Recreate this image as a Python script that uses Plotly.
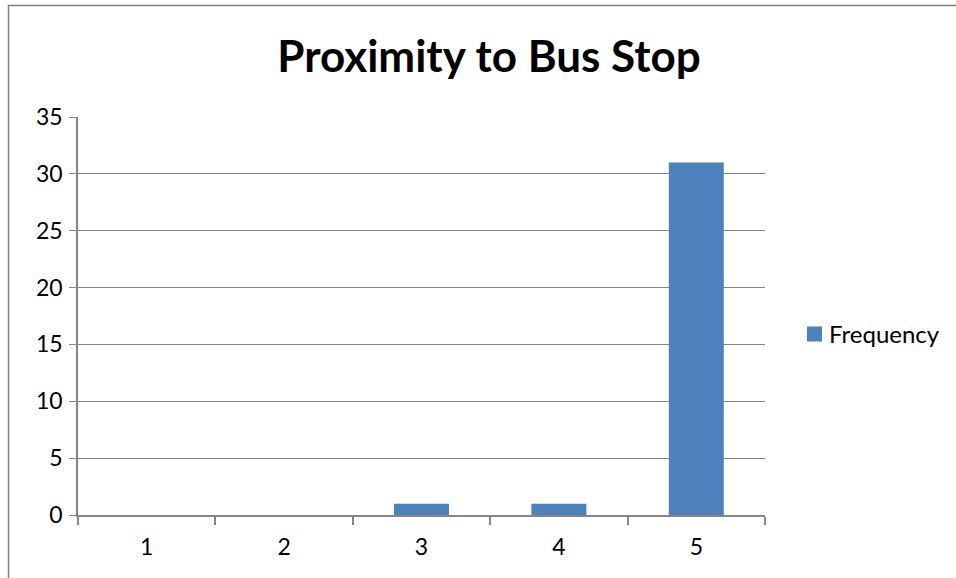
import plotly.graph_objects as go

# Frequency of responses per proximity rating
ratings = [1, 2, 3, 4, 5]
frequency = [0, 0, 1, 1, 31]
y_ticks = [0, 5, 10, 15, 20, 25, 30, 35]
series_name = "Frequency"

GRID = "#868686"
BAR = "#4F81BD"
FONT = "Lato, 'Open Sans', sans-serif"

fig = go.Figure()
fig.add_trace(go.Bar(
    x=ratings,
    y=frequency,
    name=series_name,
    marker=dict(color=BAR, line=dict(width=0)),
    width=0.4,
    showlegend=False,
))

fig.update_layout(
    width=956,
    height=578,
    margin=dict(l=78, r=191, t=117, b=63),
    paper_bgcolor="white",
    plot_bgcolor="white",
    font=dict(family=FONT, size=23, color="black"),
    title=dict(
        text="<b>Proximity to Bus Stop</b>",
        font=dict(family=FONT, size=44, color="black"),
        x=489 / 956, xanchor="center", xref="container",
        y=1 - 57 / 578, yanchor="middle", yref="container",
    ),
    bargap=0.6,
)

fig.update_xaxes(
    range=[0.5, 5.5],
    tickvals=ratings,
    ticktext=[str(r) for r in ratings],
    tickfont=dict(family=FONT, size=23, color="black"),
    ticks="outside", ticklen=0,
    ticklabelstandoff=10,
    showline=True, linecolor=GRID, linewidth=2,
    showgrid=False, zeroline=False,
    minor=dict(tickvals=[0.5, 1.5, 2.5, 3.5, 4.5, 5.5], ticks="outside",
               ticklen=8, tickcolor=GRID, tickwidth=2, showgrid=False),
    fixedrange=True,
)
fig.update_yaxes(
    range=[0, 35],
    tickvals=y_ticks,
    tickfont=dict(family=FONT, size=23, color="black"),
    ticks="outside", ticklen=7, tickcolor=GRID, tickwidth=1,
    ticklabelstandoff=2,
    showline=True, linecolor=GRID, linewidth=1.5,
    showgrid=True, gridcolor=GRID, gridwidth=1,
    zeroline=False,
    fixedrange=True,
)

# Legend key: coloured square plus series name, right of the plot area
px_x = lambda p: (p - 78) / 687
px_y = lambda p: (515 - p) / 398
fig.add_shape(
    type="rect", xref="paper", yref="paper",
    x0=px_x(807), x1=px_x(822), y0=px_y(341.5), y1=px_y(326.5),
    fillcolor=BAR, line=dict(width=0),
)
fig.add_annotation(
    text=series_name, xref="paper", yref="paper",
    x=px_x(827), y=px_y(333), xanchor="left", yanchor="middle",
    showarrow=False, font=dict(family=FONT, size=24, color="black"),
)

# Outer chart frame (extends past the right and bottom edges)
fig.add_shape(
    type="rect", xref="paper", yref="paper",
    x0=px_x(8.5), x1=px_x(1000),
    y0=px_y(620), y1=px_y(5.5),
    line=dict(color="#7f7f7f", width=1.5),
    fillcolor="rgba(0,0,0,0)", layer="below",
)

fig.write_html("out.html")
